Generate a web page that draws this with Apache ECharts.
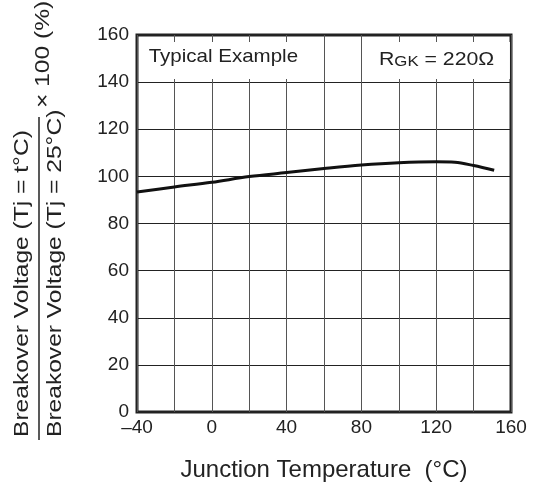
<!DOCTYPE html>
<html>
<head>
<meta charset="utf-8">
<script src="https://cdn.jsdelivr.net/npm/echarts@6/dist/echarts.min.js"></script>
<style>
  html, body { margin: 0; padding: 0; background: #fff; }
  #chart { width: 540px; height: 494px; }
</style>
</head>
<body>
<div id="chart"></div>
<script>
// junction temperature (°C) and breakover voltage ratio (%)
const tempC = [-40, -20, 0, 20, 40, 60, 80, 100, 120, 130, 140, 151];
const ratioPct = [93.4, 95.5, 97.5, 99.9, 101.6, 103.3, 104.8, 105.8, 106.2, 106.0, 104.6, 102.6];
const xTickLabels = [-40, 0, 40, 80, 120, 160];

const FONT = '"Liberation Sans", Arial, Helvetica, sans-serif';
const INK = '#222';

const chart = echarts.init(document.getElementById('chart'));

// sideways title text (reads bottom to top), a bit stretched like the original lettering
function sideText(x, y, text) {
  return {
    type: 'text',
    x: x,
    y: y,
    rotation: Math.PI / 2,
    scaleX: 1.17,
    style: {
      text: text,
      font: '21px ' + FONT,
      fill: INK,
      align: 'left', textAlign: 'left',
      verticalAlign: 'middle', textVerticalAlign: 'middle',
    },
  };
}

const option = {
  backgroundColor: '#fff',
  animation: false,
  grid: {
    left: 137,
    right: 29,
    top: 35,
    bottom: 82,
    show: true,
    borderColor: INK,
    borderWidth: 3,
  },
  xAxis: {
    type: 'value',
    min: -40,
    max: 160,
    interval: 20,
    name: 'Junction Temperature  (°C)',
    nameLocation: 'middle',
    nameGap: 46,
    nameTextStyle: { fontFamily: FONT, fontSize: 24, color: INK },
    axisLine: { show: false },
    axisTick: { show: false },
    axisLabel: {
      fontFamily: FONT,
      fontSize: 19,
      color: INK,
      margin: 6,
      formatter(v) {
        if (xTickLabels.indexOf(v) < 0) return '';
        return v < 0 ? '\u2013' + (-v) : String(v);
      },
    },
    splitLine: { show: true, lineStyle: { color: '#555', width: 1 } },
  },
  yAxis: {
    type: 'value',
    min: 0,
    max: 160,
    interval: 20,
    axisLine: { show: false },
    axisTick: { show: false },
    axisLabel: { fontFamily: FONT, fontSize: 19, color: INK, margin: 8 },
    splitLine: { show: true, lineStyle: { color: INK, width: 1 } },
  },
  series: [
    {
      type: 'line',
      data: tempC.map((t, i) => [t, ratioPct[i]]),
      smooth: 0.35,
      showSymbol: false,
      lineStyle: { color: '#111', width: 3 },
      z: 3,
    },
  ],
  graphic: [
    {
      type: 'text',
      z: 10,
      x: 140,
      y: 42,
      scaleX: 1.08,
      style: {
        text: 'Typical Example',
        font: '19px ' + FONT,
        fill: INK,
        backgroundColor: '#fff',
        padding: [5, 12, 13, 8],
        align: 'left', textAlign: 'left',
        verticalAlign: 'top', textVerticalAlign: 'top',
      },
    },
    {
      type: 'text',
      z: 10,
      x: 370,
      y: 42,
      scaleX: 1.12,
      style: {
        text: '{n|R}{s|GK}{n| = 220\u03A9}',
        fill: INK,
        backgroundColor: '#fff',
        padding: [5, 14, 10, 8],
        align: 'left', textAlign: 'left',
        verticalAlign: 'top', textVerticalAlign: 'top',
        rich: {
          n: { fontFamily: FONT, fontSize: 19, color: INK, lineHeight: 22, verticalAlign: 'bottom' },
          s: { fontFamily: FONT, fontSize: 15, color: INK, lineHeight: 22, verticalAlign: 'bottom' },
        },
      },
    },
    // y axis title: fraction written sideways
    sideText(22, 437, 'Breakover Voltage (Tj = t°C)'),
    {
      type: 'line',
      shape: { x1: 39, y1: 440, x2: 39, y2: 117 },
      style: { stroke: INK, lineWidth: 1.5 },
    },
    sideText(55, 437, 'Breakover Voltage (Tj = 25°C)'),
    sideText(43, 108, '\u00D7 100 (%)'),
  ],
};

chart.setOption(option);
window.addEventListener('resize', () => {
  chart.resize();
});
</script>
</body>
</html>
